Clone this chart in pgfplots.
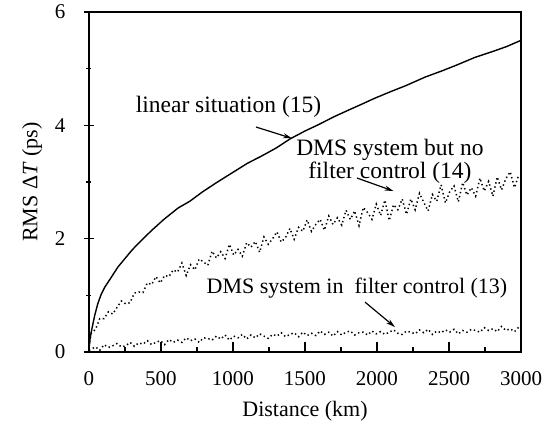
\documentclass[border=0pt]{standalone}
\usepackage{pgfplots}
\pgfplotsset{compat=1.18}
\usepackage{fontspec}
\setmainfont{Liberation Serif}
\usetikzlibrary{arrows.meta}

\begin{document}
\begin{tikzpicture}
\begin{axis}[
    width=432pt, height=340pt, scale only axis,
    xmin=0, xmax=3000, ymin=0, ymax=6,
    xtick={0,500,...,3000}, ytick={0,2,4,6},
    minor x tick num=1, minor y tick num=1,
    xtick pos=left, ytick pos=left,
    xtick align=inside, ytick align=center,
    major tick length=10pt, minor tick length=5pt,
    tick style={black, line width=1.2pt},
    axis line style={line width=1.2pt},
    ticklabel style={font=\fontsize{21}{24}\selectfont},
    xticklabel style={yshift=-16pt},
    yticklabel style={xshift=-15pt},
    label style={font=\fontsize{22}{24}\selectfont},
    xlabel style={yshift=-9pt},
    ylabel style={yshift=6pt},
    /pgf/number format/assume math mode=true,
    scaled x ticks=false,
    xticklabel style={/pgf/number format/1000 sep=},
    xlabel={Distance (km)},
    ylabel={RMS Δ\textit{T} (ps)},
    clip=false,
]
\coordinate (O) at (rel axis cs:0,0);
% linear situation (15)
\addplot[black, line width=1.4pt] coordinates {
  (0,0.05) (8,0.25) (21,0.42) (40,0.65) (62,0.86) (85,1.02) (111,1.15)
  (150,1.3) (201,1.5) (250,1.65) (299,1.8) (360,1.96) (437,2.15) (520,2.34)
  (618,2.54) (700,2.66) (785,2.82) (880,2.98) (993,3.16) (1100,3.33)
  (1200,3.46) (1300,3.6) (1396,3.76) (1500,3.9) (1600,4.02) (1700,4.15)
  (1812,4.28) (1900,4.38) (1986,4.48) (2100,4.6) (2200,4.7) (2333,4.85)
  (2450,4.96) (2550,5.06) (2681,5.2) (2800,5.3) (2900,5.39) (3000,5.5)};
% DMS system but no filter control (14)
\addplot[black, line width=1.5pt, dash pattern=on 1.4pt off 2.8pt] coordinates {
  (0,0.1) (15,0.33) (45,0.40) (75,0.59) (105,0.59) (135,0.71) (165,0.67)
  (195,0.79) (225,0.90) (255,0.85) (285,0.87) (315,1.04) (345,1.06)
  (375,1.05) (405,1.22) (435,1.19) (465,1.33) (495,1.22) (525,1.35)
  (555,1.33) (585,1.45) (615,1.41) (645,1.57) (675,1.35) (705,1.54)
  (735,1.45) (765,1.64) (795,1.59) (825,1.53) (855,1.78) (885,1.66)
  (915,1.77) (945,1.65) (975,1.90) (1005,1.71) (1035,1.81) (1065,1.69)
  (1095,1.93) (1125,1.85) (1155,1.95) (1185,1.76) (1215,2.03) (1245,1.90)
  (1275,2.00) (1305,2.12) (1335,1.94) (1365,2.02) (1395,2.18) (1425,1.99)
  (1455,2.20) (1485,2.13) (1515,2.33) (1545,2.13) (1575,2.25) (1605,2.34)
  (1635,2.15) (1665,2.40) (1695,2.25) (1725,2.37) (1755,2.24) (1785,2.50)
  (1815,2.34) (1845,2.49) (1875,2.23) (1905,2.55) (1935,2.46) (1965,2.34)
  (1995,2.61) (2025,2.41) (2055,2.68) (2085,2.32) (2115,2.60) (2145,2.51)
  (2175,2.70) (2205,2.43) (2235,2.70) (2265,2.51) (2295,2.80) (2325,2.64)
  (2355,2.49) (2385,2.78) (2415,2.66) (2445,2.95) (2475,2.63) (2505,2.83)
  (2535,2.93) (2565,2.65) (2595,2.99) (2625,2.77) (2655,2.90) (2685,2.75)
  (2715,3.07) (2745,2.84) (2775,3.01) (2805,2.75) (2835,3.09) (2865,2.86)
  (2895,3.06) (2925,3.18) (2955,2.90) (2985,3.13)};
% DMS system in filter control (13)
\addplot[black, line width=1.5pt, dash pattern=on 1.4pt off 2.8pt] coordinates {
  (0,0.03) (15,0.05) (45,0.09) (75,0.03) (105,0.13) (135,0.08) (165,0.11)
  (195,0.15) (225,0.09) (255,0.11) (285,0.17) (315,0.10) (345,0.16)
  (375,0.14) (405,0.20) (435,0.13) (465,0.17) (495,0.20) (525,0.13)
  (555,0.22) (585,0.17) (615,0.21) (645,0.17) (675,0.25) (705,0.20)
  (735,0.23) (765,0.17) (795,0.25) (825,0.24) (855,0.21) (885,0.28)
  (915,0.23) (945,0.30) (975,0.21) (1005,0.28) (1035,0.25) (1065,0.31)
  (1095,0.23) (1125,0.30) (1155,0.25) (1185,0.32) (1215,0.28) (1245,0.24)
  (1275,0.31) (1305,0.28) (1335,0.34) (1365,0.27) (1395,0.31) (1425,0.34)
  (1455,0.27) (1485,0.35) (1515,0.29) (1545,0.33) (1575,0.29) (1605,0.37)
  (1635,0.31) (1665,0.35) (1695,0.28) (1725,0.36) (1755,0.30) (1785,0.35)
  (1815,0.37) (1845,0.30) (1875,0.34) (1905,0.35) (1935,0.30) (1965,0.37)
  (1995,0.32) (2025,0.36) (2055,0.31) (2085,0.35) (2115,0.39) (2145,0.33)
  (2175,0.31) (2205,0.37) (2235,0.35) (2265,0.32) (2295,0.39) (2325,0.34)
  (2355,0.40) (2385,0.31) (2415,0.37) (2445,0.34) (2475,0.39) (2505,0.35)
  (2535,0.40) (2565,0.32) (2595,0.38) (2625,0.35) (2655,0.40) (2685,0.38)
  (2715,0.35) (2745,0.43) (2775,0.38) (2805,0.41) (2835,0.36) (2865,0.45)
  (2895,0.38) (2925,0.41) (2955,0.36) (2985,0.44)};
% annotations
\node[font=\fontsize{23.5}{22}\selectfont] at (axis cs:969,4.32) {linear situation (15)};
\draw[line width=1.2pt, -{Stealth[length=9pt,width=5pt]}] (axis cs:1160,3.97) -- (axis cs:1410,3.77);
\node[font=\fontsize{23.5}{21}\selectfont, align=center] at (axis cs:2090,3.36) {DMS system but no\\filter control (14)};
\draw[line width=1.2pt, -{Stealth[length=9pt,width=5pt]}] (axis cs:1861,3.07) -- (axis cs:2115,2.84);
\node[font=\fontsize{22}{25}\selectfont] at (axis cs:1861,1.13) {DMS system in\ \ filter control (13)};
\draw[line width=1.2pt, -{Stealth[length=9pt,width=5pt]}] (axis cs:1917,0.88) -- (axis cs:2125,0.44);
\end{axis}
\pgfresetboundingbox
\path[use as bounding box] (O) ++(-89pt,-71pt) rectangle ++(554pt,423pt);
\end{tikzpicture}
\end{document}
